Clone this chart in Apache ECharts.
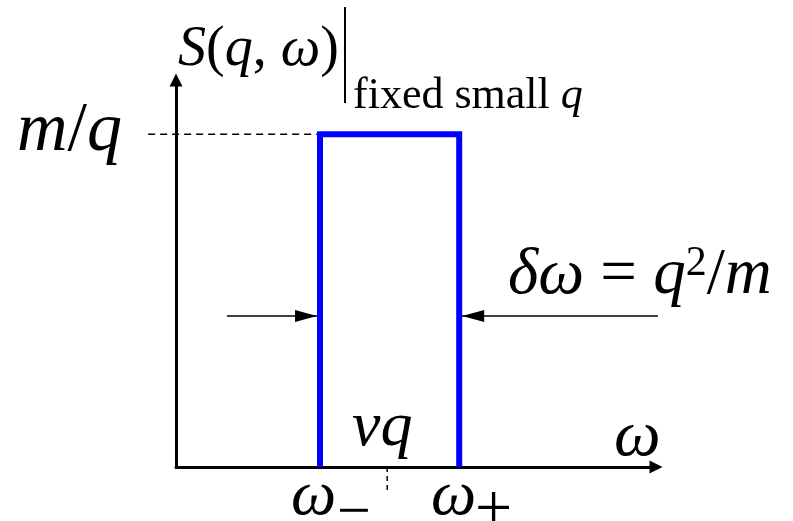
<!DOCTYPE html>
<html>
<head>
<meta charset="utf-8">
<script src="https://cdn.jsdelivr.net/npm/echarts@6/dist/echarts.min.js"></script>
<style>
  html, body { margin: 0; padding: 0; background: #fff; }
  #chart { width: 793px; height: 521px; }
</style>
</head>
<body>
<div id="chart"></div>
<script>
// Box-shaped structure factor at fixed small q (arbitrary units)
const omegaMinus = 3.0;     // lower edge ω−
const omegaPlus = 5.9;      // upper edge ω+
const omegaCenter = 4.4;    // vq
const peakHeight = 8.6;     // m/q
const arrowLevel = 3.9;     // height of the width arrows
const leftArrowStart = 1.06;
const rightArrowStart = 10.04;
const levelLineStart = -0.58;
const centerTickEnd = -0.6;

const boxOutline = [
  [omegaMinus, 0],
  [omegaMinus, peakHeight],
  [omegaPlus, peakHeight],
  [omegaPlus, 0]
];

const serif = '"Liberation Serif", "DejaVu Serif", serif';
const upArrow = 'path://M5,0L10,10L0,10Z';
const rightHead = 'path://M0,0L10,5L0,10Z';
const leftHead = 'path://M10,0L0,5L10,10Z';

const chart = echarts.init(document.getElementById('chart'));

const axisCommon = {
  type: 'value',
  min: 0,
  max: 10,
  axisTick: { show: false },
  axisLabel: { show: false },
  splitLine: { show: false },
  axisLine: {
    show: true,
    onZero: false,
    symbol: ['none', upArrow],
    symbolSize: [13, 24],
    lineStyle: { color: '#000', width: 3 }
  }
};

const it = { fontFamily: serif, fontStyle: 'italic', color: '#000' };
const rm = { fontFamily: serif, fontStyle: 'normal', color: '#000' };
const italicText = (text, size, left, top) => ({
  type: 'text', left, top, silent: true,
  style: Object.assign({ text, fontSize: size }, it)
});
const romanText = (text, size, left, top) => ({
  type: 'text', left, top, silent: true,
  style: Object.assign({ text, fontSize: size }, rm)
});

const labels = [
  {
    type: 'text', left: 178, top: 22, silent: true,
    style: {
      text: '{i|S}{r|(}{i|q}{r|,}{i| ω}{r|)}',
      rich: { i: Object.assign({ fontSize: 56 }, it), r: Object.assign({ fontSize: 56 }, rm) }
    }
  },
  {
    type: 'line', silent: true,
    shape: { x1: 345, y1: 7, x2: 345, y2: 103 },
    style: { stroke: '#000', lineWidth: 2 }
  },
  {
    type: 'text', left: 353, top: 74, silent: true,
    style: {
      text: '{r|fixed small }{i|q}',
      rich: { i: Object.assign({ fontSize: 44 }, it), r: Object.assign({ fontSize: 44 }, rm) }
    }
  },
  {
    type: 'text', left: 17, top: 97, silent: true,
    style: {
      text: '{i|m}{r|/}{i|q}',
      rich: { i: Object.assign({ fontSize: 70 }, it), r: Object.assign({ fontSize: 70 }, rm) }
    }
  },
  {
    type: 'text', left: 508, top: 243, silent: true,
    style: {
      text: '{i|δω}{r| = }{i|q}{s|2}{r|/}{i|m}',
      rich: {
        i: Object.assign({ fontSize: 65 }, it),
        r: Object.assign({ fontSize: 65 }, rm),
        s: Object.assign({ fontSize: 42, verticalAlign: 'top' }, rm)
      }
    }
  },
  italicText('vq', 64, 352, 396),
  italicText('ω', 66, 614, 405),
  italicText('ω', 64, 291, 465),
  romanText('−', 60, 337, 484),
  italicText('ω', 64, 431, 465),
  romanText('+', 66, 475, 479)
];

chart.setOption({
  animation: false,
  backgroundColor: '#fff',
  grid: { left: 176, top: 80, width: 480, height: 387, containLabel: false },
  xAxis: axisCommon,
  yAxis: axisCommon,
  series: [
    {
      type: 'line',
      data: boxOutline,
      showSymbol: false,
      silent: true,
      lineStyle: { color: '#0000ff', width: 6, join: 'miter', cap: 'butt' },
      z: 5
    },
    {
      type: 'line',
      data: [[omegaCenter, 0], [omegaCenter, centerTickEnd]],
      showSymbol: false,
      silent: true,
      clip: false,
      lineStyle: { color: '#000', width: 1.5, type: [5, 4] },
      z: 3
    },
    {
      type: 'line',
      silent: true,
      clip: false,
      lineStyle: { color: '#000', width: 1.5 },
      itemStyle: { color: '#000' },
      data: [
        { value: [leftArrowStart, arrowLevel], symbol: 'none' },
        { value: [omegaMinus, arrowLevel], symbol: rightHead, symbolSize: [22, 12], symbolOffset: [-14, 0] }
      ],
      z: 4
    },
    {
      type: 'line',
      silent: true,
      clip: false,
      lineStyle: { color: '#000', width: 1.5 },
      itemStyle: { color: '#000' },
      data: [
        { value: [rightArrowStart, arrowLevel], symbol: 'none' },
        { value: [omegaPlus, arrowLevel], symbol: leftHead, symbolSize: [22, 12], symbolOffset: [14, 0] }
      ],
      z: 4
    }
  ],
  graphic: labels
});

// Dashed guide from the m/q level on the vertical axis to the box's top-left corner,
// placed through the chart's own coordinate conversion so it may start left of the axis.
const levelFrom = chart.convertToPixel({ gridIndex: 0 }, [levelLineStart, peakHeight]);
const levelTo = chart.convertToPixel({ gridIndex: 0 }, [omegaMinus, peakHeight]);
chart.setOption({
  graphic: labels.concat([{
    type: 'line', silent: true, z: 3,
    shape: { x1: levelFrom[0], y1: levelFrom[1], x2: levelTo[0], y2: levelTo[1] },
    style: { stroke: '#000', lineWidth: 1.5, lineDash: [7, 5] }
  }])
});
</script>
</body>
</html>
